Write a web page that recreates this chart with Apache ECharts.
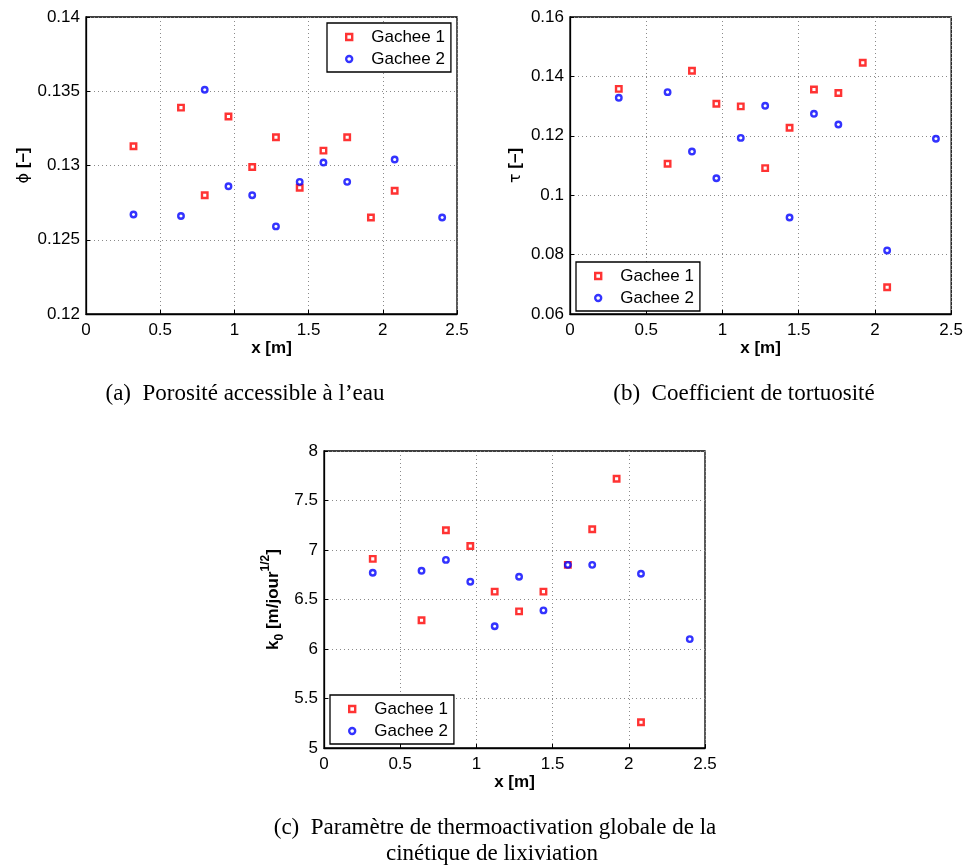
<!DOCTYPE html>
<html><head><meta charset="utf-8">
<script src="https://cdn.jsdelivr.net/npm/echarts@6/dist/echarts.min.js"></script>
<style>html,body{margin:0;padding:0;background:#fff}#c{width:966px;height:866px}</style>
</head><body><div id="c"></div>
<script>
// positions along the specimen [m]
const xPositions = [0.32, 0.64, 0.8, 0.96, 1.12, 1.28, 1.44, 1.6, 1.76, 1.92, 2.08, 2.4];
// (a) porosity
const phiG1 = [0.1313, 0.1339, 0.1280, 0.1333, 0.1299, 0.1319, 0.1285, 0.1310, 0.1319, 0.1265, 0.1283, null];
const phiG2 = [0.1267, 0.1266, 0.1351, 0.1286, 0.1280, 0.1259, 0.1289, 0.1302, 0.1289, null, 0.1304, 0.1265];
// (b) tortuosity
const tauG1 = [0.1358, 0.1106, 0.1419, 0.1308, 0.1299, 0.1091, 0.1227, 0.1356, 0.1344, 0.1446, 0.0690, null];
const tauG2 = [0.1328, 0.1347, 0.1147, 0.1057, 0.1193, 0.1301, 0.0925, 0.1274, 0.1238, null, 0.0814, 0.1190];
// (c) k0
const k0G1 = [6.91, 6.29, 7.20, 7.04, 6.58, 6.38, 6.58, 6.85, 7.21, 7.72, 5.26, null];
const k0G2 = [6.77, 6.79, 6.90, 6.68, 6.23, 6.73, 6.39, 6.85, 6.85, null, 6.76, 6.10];

const seriesNames = ['Gachee 1', 'Gachee 2'];
const captionA = '(a)  Porosité accessible à l\u2019eau';
const captionB = '(b)  Coefficient de tortuosité';
const captionC1 = '(c)  Paramètre de thermoactivation globale de la';
const captionC2 = 'cinétique de lixiviation';

const SANS = 'Liberation Sans, Arial, Helvetica, sans-serif';
const SERIF = 'Liberation Serif, Times New Roman, serif';
const FS = 17;

function pairs(ys) {
  const out = [];
  xPositions.forEach((x, i) => { if (ys[i] != null) out.push([x, ys[i]]); });
  return out;
}

const gridsPos = [
  {left: 86, top: 17, width: 371, height: 297},
  {left: 570, top: 17, width: 383, height: 297},
  {left: 324, top: 451, width: 381, height: 297}
];

function xAxis(i, gap) {
  return {
    gridIndex: i, type: 'value', min: 0, max: 2.5, interval: 0.5,
    name: 'x [m]', nameLocation: 'middle', nameGap: gap,
    nameTextStyle: {fontFamily: SANS, fontSize: FS, fontWeight: 'bold', color: '#000'},
    axisLine: {show: true, onZero: false, lineStyle: {color: '#000', width: 1.3}},
    axisTick: {show: true, inside: true, length: 4, lineStyle: {color: '#000'}},
    axisLabel: {fontFamily: SANS, fontSize: FS, color: '#000', margin: 8},
    splitLine: {show: true, lineStyle: {color: '#8a8a8a', type: [1, 3], width: 1}}
  };
}
function yAxis(i, min, max, interval, name, gap, rich) {
  return {
    gridIndex: i, type: 'value', min: min, max: max, interval: interval,
    name: name, nameLocation: 'middle', nameGap: gap, nameRotate: 90, nameMoveOverlap: false,
    nameTextStyle: {fontFamily: SANS, fontSize: FS, fontWeight: 'bold', color: '#000', rich: rich},
    axisLine: {show: true, onZero: false, lineStyle: {color: '#000', width: 1.3}},
    axisTick: {show: true, inside: true, length: 4, lineStyle: {color: '#000'}},
    axisLabel: {fontFamily: SANS, fontSize: FS, color: '#000', margin: 6},
    splitLine: {show: true, lineStyle: {color: '#8a8a8a', type: [1, 3], width: 1}}
  };
}

const redStyle = {color: '#ffffff', borderColor: '#ff0000', borderWidth: 2.4};
const blueStyle = {color: '#ffffff', borderColor: '#0000ff', borderWidth: 2.4};

function scat(name, i, ys, isRed) {
  return {
    type: 'scatter', name: name, xAxisIndex: i, yAxisIndex: i,
    data: pairs(ys), symbol: isRed ? 'rect' : 'circle', symbolSize: 5.5,
    itemStyle: isRed ? redStyle : blueStyle, emphasis: {disabled: true}, z: 3
  };
}

function legend(left, top) {
  return {
    left: left, top: top, orient: 'vertical',
    backgroundColor: '#fff', borderColor: '#000', borderWidth: 1.3,
    padding: [5, 6, 4, 18], itemGap: 4, itemWidth: 6, itemHeight: 6,
    selectedMode: false,
    formatter: n => '{t|' + n + '}',
    textStyle: {fontFamily: SANS, fontSize: FS, color: '#000', lineHeight: 18,
      rich: {t: {fontFamily: SANS, fontSize: FS, color: '#000', lineHeight: 18, padding: [0, 0, 0, 14]}}},
    data: [
      {name: seriesNames[0], icon: 'rect', itemStyle: redStyle},
      {name: seriesNames[1], icon: 'circle', itemStyle: blueStyle}
    ]
  };
}

const nameRich = {
  s: {fontFamily: 'DejaVu Sans', fontSize: 16, fontWeight: 'normal', color: '#000'},
  b: {fontFamily: SANS, fontSize: FS, fontWeight: 'bold', color: '#000'},
  sub: {fontFamily: SANS, fontSize: 12, fontWeight: 'bold', color: '#000', verticalAlign: 'bottom', lineHeight: 26},
  sup: {fontFamily: SANS, fontSize: 12, fontWeight: 'bold', color: '#000', verticalAlign: 'top', lineHeight: 26}
};

const chart = echarts.init(document.getElementById('c'), null, {renderer: 'canvas'});
chart.setOption({
  animation: false,
  backgroundColor: '#fff',
  grid: gridsPos.map(g => Object.assign({show: true, borderColor: '#000', borderWidth: 1.3, backgroundColor: 'transparent', containLabel: false}, g)),
  xAxis: [xAxis(0, 25), xAxis(1, 25), xAxis(2, 25)],
  yAxis: [
    yAxis(0, 0.12, 0.14, 0.005, '{s|\u03D5} {b|[\u2013]}', 54, nameRich),
    yAxis(1, 0.06, 0.16, 0.02, '{s|\u03C4} {b|[\u2013]}', 46, nameRich),
    yAxis(2, 5, 8, 0.5, '{b|k}{sub|0}{b| [m/jour}{sup|1/2}{b|]}', 38, nameRich)
  ],
  legend: [legend(327, 23), legend(576, 262), legend(330, 695)],
  series: [
    scat(seriesNames[0], 0, phiG1, true), scat(seriesNames[1], 0, phiG2, false),
    scat(seriesNames[0], 1, tauG1, true), scat(seriesNames[1], 1, tauG2, false),
    scat(seriesNames[0], 2, k0G1, true), scat(seriesNames[1], 2, k0G2, false)
  ],
  graphic: [
    {type: 'text', style: {text: captionA, font: '23px ' + SERIF, fill: '#000', textAlign: 'center', textVerticalAlign: 'middle', x: 245, y: 394}},
    {type: 'text', style: {text: captionB, font: '23px ' + SERIF, fill: '#000', textAlign: 'center', textVerticalAlign: 'middle', x: 744, y: 394}},
    {type: 'text', style: {text: captionC1, font: '23px ' + SERIF, fill: '#000', textAlign: 'center', textVerticalAlign: 'middle', x: 495, y: 828}},
    {type: 'text', style: {text: captionC2, font: '23px ' + SERIF, fill: '#000', textAlign: 'center', textVerticalAlign: 'middle', x: 492, y: 854}}
  ]
});
</script></body></html>
